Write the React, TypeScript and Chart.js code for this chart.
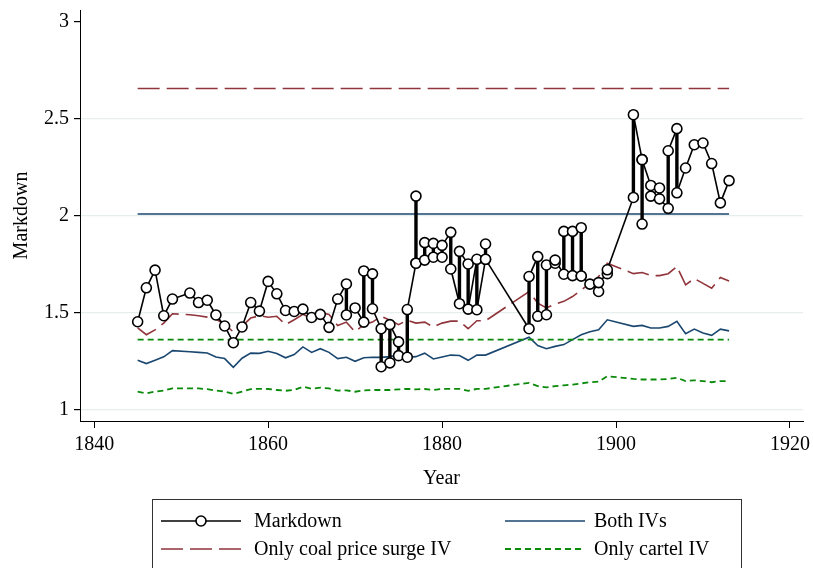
import React, { useEffect, useRef } from "react";
import { Chart, registerables } from "chart.js";

Chart.register(...registerables);

// ---------- DATA ----------
const years = [
  1845, 1846, 1847, 1848, 1849,
  1851, 1852, 1853, 1854, 1855, 1856, 1857, 1858, 1859, 1860,
  1861, 1862, 1863, 1864, 1865, 1866, 1867, 1868, 1869, 1870,
  1871, 1872, 1873, 1874, 1875, 1876, 1877, 1878, 1879, 1880,
  1881, 1882, 1883, 1884, 1885,
  1890, 1891, 1892, 1893, 1894, 1895, 1896, 1897, 1898, 1899,
  1902, 1903, 1904, 1905, 1906, 1907, 1908, 1909, 1910, 1911, 1912, 1913,
];

// observed markdowns, several observations per year (in drawing order)
const markdownValues: number[][] = [
  [1.452], [1.627], [1.718], [1.483], [1.569],
  [1.6], [1.551], [1.563], [1.487], [1.43], [1.344], [1.425], [1.551], [1.507], [1.66],
  [1.596], [1.51], [1.505], [1.517], [1.474], [1.49], [1.423], [1.569], [1.647, 1.487], [1.523],
  [1.45, 1.714], [1.699, 1.519], [1.416, 1.22], [1.24, 1.437], [1.348, 1.277], [1.269, 1.515],
  [1.754, 2.1, 1.754], [1.77, 1.86], [1.856, 1.785], [1.785, 1.846],
  [1.913, 1.724], [1.545, 1.815], [1.75, 1.517], [1.774, 1.514], [1.774, 1.853, 1.774],
  [1.416, 1.685], [1.788, 1.48], [1.488, 1.745], [1.754, 1.77], [1.697, 1.918], [1.918, 1.69],
  [1.688, 1.937, 1.688], [1.646], [1.608, 1.654], [1.7, 1.72],
  [2.093, 2.52], [2.288, 1.956, 2.288], [2.155, 2.1], [2.142, 2.086], [2.037, 2.334],
  [2.448, 2.117], [2.245], [2.365], [2.374], [2.268], [2.065], [2.18],
];

const bothIVsValues = [
  1.253, 1.236, 1.253, 1.271, 1.303,
  1.297, 1.294, 1.291, 1.27, 1.262, 1.217, 1.264, 1.29, 1.289, 1.3,
  1.288, 1.266, 1.283, 1.322, 1.294, 1.313, 1.294, 1.262, 1.269, 1.248,
  1.266, 1.269, 1.268, 1.272, 1.28, 1.268, 1.272, 1.29, 1.26, 1.27,
  1.28, 1.278, 1.253, 1.28, 1.28,
  1.372, 1.329, 1.313, 1.325, 1.334, 1.36, 1.385, 1.4, 1.41, 1.462,
  1.428, 1.433, 1.42, 1.42, 1.428, 1.454, 1.39, 1.414, 1.394, 1.382, 1.414, 1.405,
];

const coalIVValues = [
  1.42, 1.385, 1.41, 1.445, 1.493,
  1.488, 1.483, 1.476, 1.466, 1.438, 1.4, 1.43, 1.471, 1.483, 1.475,
  1.48, 1.437, 1.462, 1.49, 1.47, 1.5, 1.49, 1.432, 1.45, 1.4,
  1.437, 1.45, 1.48, 1.46, 1.437, 1.46, 1.445, 1.45, 1.425, 1.445,
  1.455, 1.455, 1.416, 1.457, 1.457,
  1.608, 1.548, 1.523, 1.543, 1.557, 1.582, 1.615, 1.651, 1.685, 1.754,
  1.7, 1.706, 1.69, 1.69, 1.7, 1.737, 1.642, 1.675, 1.65, 1.625, 1.68, 1.662,
];

const cartelIVValues = [
  1.091, 1.083, 1.092, 1.097, 1.108,
  1.108, 1.108, 1.104, 1.097, 1.092, 1.08, 1.092, 1.104, 1.106, 1.105,
  1.1, 1.096, 1.1, 1.117, 1.106, 1.112, 1.108, 1.097, 1.098, 1.091,
  1.098, 1.1, 1.1, 1.1, 1.103, 1.106, 1.103, 1.105, 1.1, 1.106,
  1.106, 1.106, 1.096, 1.106, 1.106,
  1.137, 1.12, 1.113, 1.12, 1.124, 1.128, 1.134, 1.14, 1.143, 1.171,
  1.157, 1.154, 1.154, 1.154, 1.157, 1.163, 1.146, 1.15, 1.146, 1.14, 1.146, 1.146,
];

// pooled (time-constant) estimates
const coalIVConstant = 2.655;
const bothIVsConstant = 2.008;
const cartelIVConstant = 1.36;

const xTickStep = 20;
const yTickStep = 0.5;
const legendLabels = ["Markdown", "Both IVs", "Only coal price surge IV", "Only cartel IV"];

// ---------- STYLE ----------
const FONT = '"Liberation Serif", "Times New Roman", Times, serif';
const BLACK = "#000000";
const MAROON = "#90353b";
const NAVY = "#1a476f";
const GREEN = "#0a8a0a";
const COAL_DASH = [22, 7];
const CARTEL_DASH = [6, 4];

const series = (vals: number[]) => years.map((yr, i) => ({ x: yr, y: vals[i] }));
const constant = (v: number) => years.map((yr) => ({ x: yr, y: v }));
const markdownPoints = years.flatMap((yr, i) => markdownValues[i].map((v) => ({ x: yr, y: v })));

const legendPlugin = {
  id: "stataLegend",
  afterDraw(chart: any) {
    const ctx = chart.ctx as CanvasRenderingContext2D;
    ctx.save();
    ctx.strokeStyle = "#333333";
    ctx.lineWidth = 1;
    ctx.setLineDash([]);
    ctx.strokeRect(152.5, 499.5, 589, 90);

    const rows = [521, 549];
    const cols = [{ x0: 161, x1: 241, tx: 254 }, { x0: 505, x1: 585, tx: 594 }];
    const entries = [
      { col: 0, row: 0, color: BLACK, dash: [] as number[], width: 1.6, marker: true },
      { col: 1, row: 0, color: NAVY, dash: [] as number[], width: 1.6, marker: false },
      { col: 0, row: 1, color: MAROON, dash: COAL_DASH, width: 1.6, marker: false },
      { col: 1, row: 1, color: GREEN, dash: CARTEL_DASH, width: 1.8, marker: false },
    ];
    entries.forEach((e, i) => {
      const c = cols[e.col];
      const y = rows[e.row];
      ctx.beginPath();
      ctx.setLineDash(e.dash);
      ctx.strokeStyle = e.color;
      ctx.lineWidth = e.width;
      ctx.moveTo(c.x0, y);
      ctx.lineTo(c.x1, y);
      ctx.stroke();
      ctx.setLineDash([]);
      if (e.marker) {
        ctx.beginPath();
        ctx.arc((c.x0 + c.x1) / 2, y, 5, 0, Math.PI * 2);
        ctx.fillStyle = "#ffffff";
        ctx.fill();
        ctx.lineWidth = 1.6;
        ctx.strokeStyle = BLACK;
        ctx.stroke();
      }
      ctx.fillStyle = BLACK;
      ctx.font = `20px ${FONT}`;
      ctx.textAlign = "left";
      ctx.textBaseline = "middle";
      ctx.fillText(legendLabels[i], c.tx, y + 1);
    });
    ctx.restore();
  },
};

export default function App() {
  const canvasRef = useRef<HTMLCanvasElement | null>(null);

  useEffect(() => {
    document.body.style.margin = "0";
    const canvas = canvasRef.current;
    if (!canvas) return;
    const chart = new Chart(canvas, {
      type: "line",
      data: {
        datasets: [
          {
            label: legendLabels[0],
            data: markdownPoints,
            borderColor: BLACK,
            borderWidth: 1.6,
            pointRadius: 5,
            pointBorderWidth: 1.6,
            pointBackgroundColor: "#ffffff",
            pointBorderColor: BLACK,
            tension: 0,
            segment: {
              borderWidth: (c: any) => (c.p0.parsed.x === c.p1.parsed.x ? 3.4 : 1.6),
            },
          },
          {
            label: "coalConst",
            data: constant(coalIVConstant),
            borderColor: MAROON,
            borderWidth: 1.6,
            borderDash: COAL_DASH,
            pointRadius: 0,
          },
          {
            label: "bothConst",
            data: constant(bothIVsConstant),
            borderColor: NAVY,
            borderWidth: 1.6,
            pointRadius: 0,
          },
          {
            label: "cartelConst",
            data: constant(cartelIVConstant),
            borderColor: GREEN,
            borderWidth: 1.8,
            borderDash: CARTEL_DASH,
            pointRadius: 0,
          },
          {
            label: "coalVar",
            data: series(coalIVValues),
            borderColor: MAROON,
            borderWidth: 1.6,
            borderDash: COAL_DASH,
            pointRadius: 0,
          },
          {
            label: "bothVar",
            data: series(bothIVsValues),
            borderColor: NAVY,
            borderWidth: 1.6,
            pointRadius: 0,
          },
          {
            label: "cartelVar",
            data: series(cartelIVValues),
            borderColor: GREEN,
            borderWidth: 1.8,
            borderDash: CARTEL_DASH,
            pointRadius: 0,
          },
        ],
      },
      options: {
        responsive: false,
        animation: false,
        devicePixelRatio: 1,
        layout: { padding: { left: 10, top: 10, right: 10, bottom: 77 } },
        plugins: { legend: { display: false }, tooltip: { enabled: false } },
        scales: {
          x: {
            type: "linear",
            min: 1838.37,
            max: 1921.5,
            ticks: {
              stepSize: xTickStep,
              includeBounds: false,
              color: BLACK,
              font: { family: FONT, size: 20 },
              padding: 5,
              maxRotation: 0,
              callback: (v: any) => String(v),
            },
            grid: {
              display: true,
              drawOnChartArea: false,
              drawTicks: true,
              tickLength: 7,
              tickColor: BLACK,
              tickWidth: 1,
            },
            border: { display: true, color: BLACK, width: 1 },
            title: {
              display: true,
              text: "Year",
              color: BLACK,
              font: { family: FONT, size: 20 },
              padding: 0,
            },
            afterFit: (s: any) => {
              s.height = 70;
              s.paddingLeft = 0;
              s.paddingRight = 0;
            },
          },
          y: {
            type: "linear",
            min: 0.94,
            max: 3.06,
            ticks: {
              stepSize: yTickStep,
              includeBounds: false,
              color: BLACK,
              font: { family: FONT, size: 20 },
              padding: 5,
              callback: (v: any) => String(v),
            },
            grid: {
              display: true,
              drawTicks: true,
              tickLength: 6,
              tickColor: BLACK,
              color: (c: any) => (c.tick && c.tick.value === 3 ? "rgba(0,0,0,0)" : "#e6eef0"),
              lineWidth: 1.2,
            },
            border: { display: true, color: BLACK, width: 1 },
            title: {
              display: true,
              text: "Markdown",
              color: BLACK,
              font: { family: FONT, size: 20 },
              padding: 0,
            },
            afterFit: (s: any) => {
              s.width = 70;
              s.paddingTop = 0;
              s.paddingBottom = 0;
            },
          },
        },
      } as any,
      plugins: [legendPlugin],
    });
    return () => chart.destroy();
  }, []);

  return (
    <div style={{ position: "absolute", left: 0, top: 0, width: 813, height: 568 }}>
      <canvas ref={canvasRef} width={813} height={568} />
    </div>
  );
}
